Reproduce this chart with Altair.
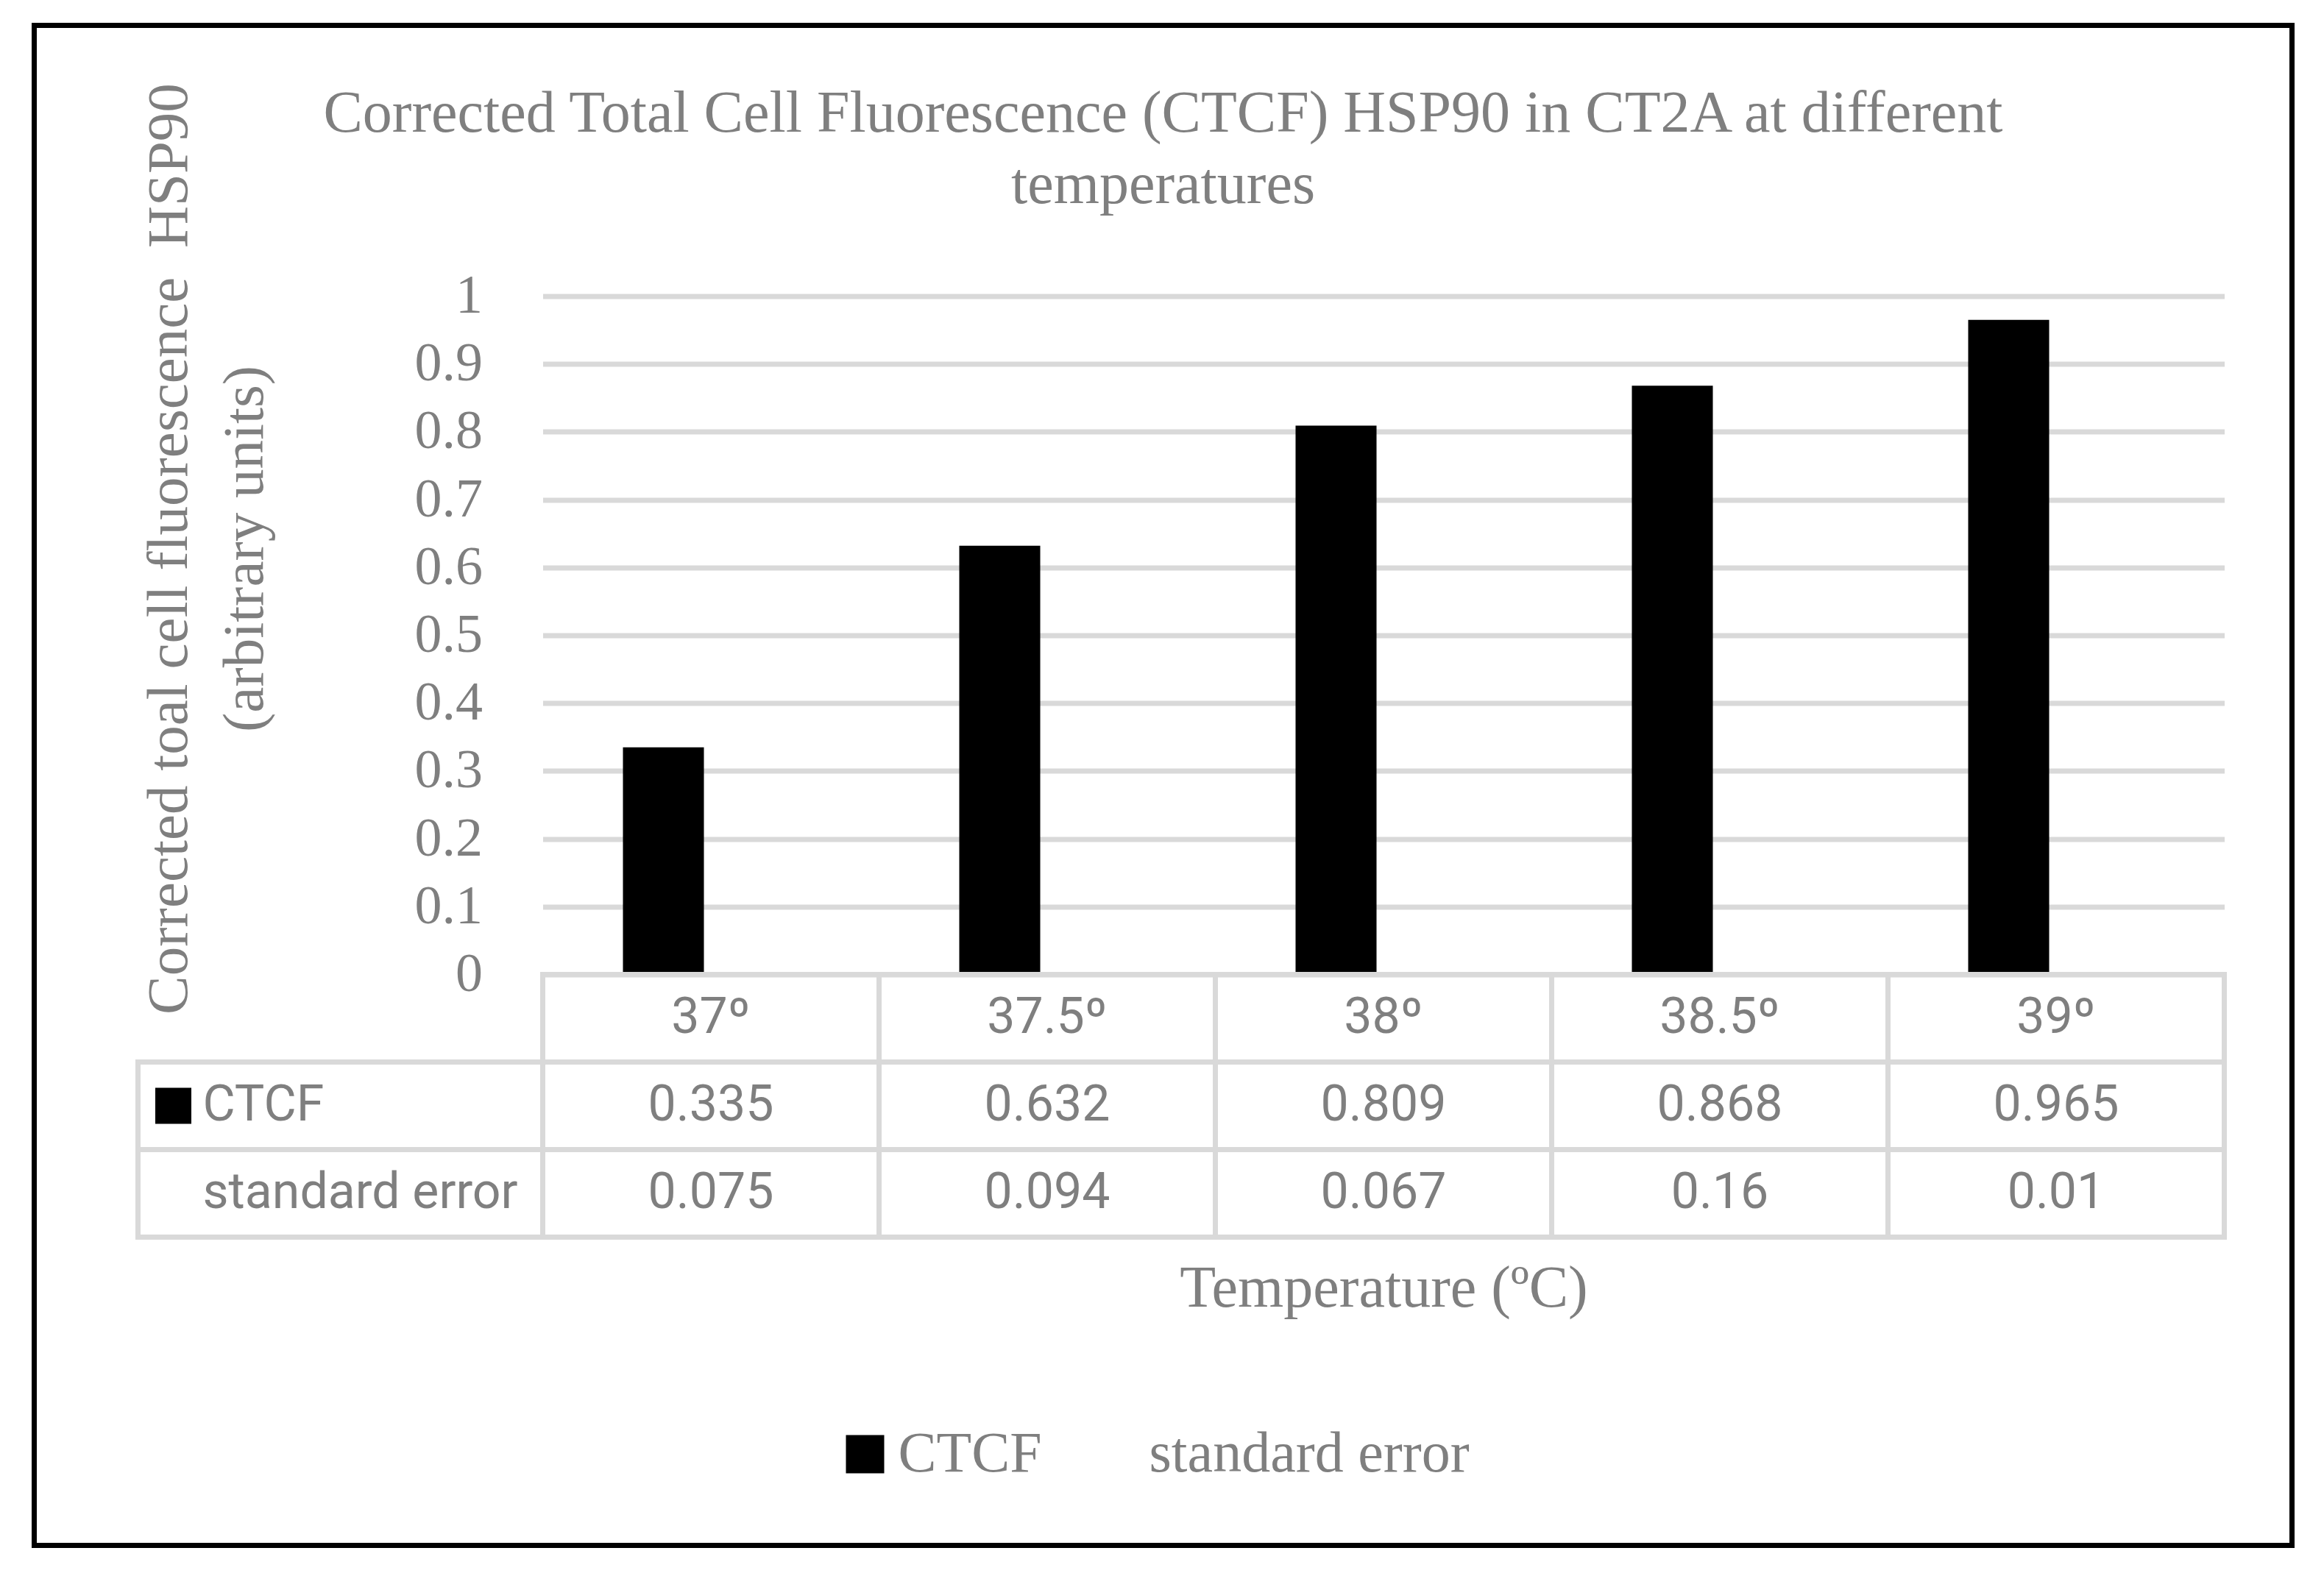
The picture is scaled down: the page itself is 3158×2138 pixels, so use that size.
import altair as alt
import pandas as pd

# ---- data ----
temps = ["37º", "37.5º", "38º", "38.5º", "39º"]
ctcf = [0.335, 0.632, 0.809, 0.868, 0.965]
std_err = [0.075, 0.094, 0.067, 0.16, 0.01]
series = ["CTCF", "standard error"]
table_rows = ["hdr", "CTCF", "standard error"]
y_ticks = [0, 0.1, 0.2, 0.3, 0.4, 0.5, 0.6, 0.7, 0.8, 0.9, 1.0]
title_lines = ["Corrected Total Cell Fluorescence (CTCF) HSP90 in CT2A at different",
               "temperatures"]
y_title = ["Corrected toal cell fluorescence\u00a0 HSP90", "(arbitrary units)"]
x_title = "Temperature (ºC)"

# ---- styling ----
SERIF = "Palatino Linotype, Book Antiqua, Palatino, Liberation Serif, serif"
SANS = "Roboto, Open Sans, sans-serif"
GRAY = "#7f7f7f"
LINE = "#d9d9d9"
W, H = 2285, 922
TAB_BOTTOM = 1279

long = pd.DataFrame({
    "temp": temps * 2,
    "row": [s for s in series for _ in temps],
    "value": ctcf + std_err,
})
cells = pd.DataFrame([(t, r) for r in table_rows for t in temps], columns=["temp", "row"])
hdr = pd.DataFrame({"temp": temps, "row": ["hdr"] * len(temps)})
labels = pd.DataFrame({"row": series})
one = pd.DataFrame({"k": [0]})

x_enc = alt.X(
    "temp:N", sort=temps,
    scale=alt.Scale(domain=temps, paddingInner=0, paddingOuter=0),
    axis=alt.Axis(labels=False, ticks=False, domain=False, grid=False,
                  title=x_title, titleFont=SERIF, titleFontSize=80,
                  titleFontWeight="normal", titleColor=GRAY,
                  titleY=451, titleBaseline="alphabetic", titleLimit=3000),
)
y_tab = alt.Y("row:N", sort=table_rows,
              scale=alt.Scale(domain=table_rows, range=[H, TAB_BOTTOM],
                              paddingInner=0, paddingOuter=0),
              axis=None)

frame = alt.Chart(one).mark_rect(fillOpacity=0, stroke="black", strokeWidth=7).encode(
    x=alt.value(-691), x2=alt.value(2377), y=alt.value(-368), y2=alt.value(1698)
)

bars = alt.Chart(long).mark_bar().encode(
    x=x_enc,
    xOffset=alt.XOffset("row:N", sort=series,
                        scale=alt.Scale(domain=series, paddingInner=0.147, paddingOuter=0.845)),
    y=alt.Y("value:Q", scale=alt.Scale(domain=[0, 1], nice=False),
            axis=alt.Axis(values=y_ticks, format=".1~f", grid=True, gridColor=LINE,
                          gridWidth=7, ticks=False, domain=False, labelPadding=82,
                          labelFont=SERIF, labelFontSize=74, labelColor=GRAY,
                          title=y_title, titleFont=SERIF, titleFontSize=79,
                          titleFontWeight="normal", titleColor=GRAY, titleAngle=270,
                          titleX=-484, titleY=343, titleAlign="center",
                          titleBaseline="alphabetic", titleLineHeight=103,
                          titleLimit=3000)),
    color=alt.Color("row:N", sort=series,
                    scale=alt.Scale(domain=series, range=["#000000", "rgba(0,0,0,0)"]),
                    legend=alt.Legend(orient="none", legendX=399, legendY=1535,
                                      direction="horizontal", title=None,
                                      symbolType="square", symbolSize=2704,
                                      symbolStrokeWidth=0, labelFont=SERIF,
                                      labelFontSize=78, labelColor=GRAY,
                                      labelOffset=6, columnPadding=61,
                                      labelLimit=1000, padding=0)),
)

cell_rects = alt.Chart(cells).mark_rect(fillOpacity=0, stroke=LINE, strokeWidth=7).encode(
    x=x_enc, y=y_tab
)
label_cells = alt.Chart(labels).mark_rect(fillOpacity=0, stroke=LINE, strokeWidth=7).encode(
    x=alt.value(-550), x2=alt.value(0), y=y_tab
)
hdr_text = alt.Chart(hdr).mark_text(font=SANS, fontSize=68, color=GRAY, baseline="middle").encode(
    x=x_enc, y=y_tab, text="temp:N"
)
val_text = alt.Chart(long).mark_text(font=SANS, fontSize=68, color=GRAY, baseline="middle").encode(
    x=x_enc, y=y_tab, text=alt.Text("value:Q", format=".3~f")
)
row_text = alt.Chart(labels).mark_text(font=SANS, fontSize=68, color=GRAY, baseline="middle",
                                       align="left").encode(
    x=alt.value(-462), y=y_tab, text="row:N"
)
swatch = alt.Chart(labels[labels["row"] == "CTCF"]).mark_square(size=2401, color="black",
                                                                 opacity=1).encode(
    x=alt.value(-502), y=y_tab
)

table = alt.layer(cell_rects, label_cells, hdr_text, val_text, row_text, swatch)

chart = alt.layer(frame, bars, table).resolve_scale(y="independent").properties(
    width=W, height=H,
    padding={"left": 34.5, "top": 22.5, "right": 0, "bottom": 0},
    title=alt.Title(title_lines, font=SERIF, fontSize=80, fontWeight="normal", color=GRAY,
                    anchor="middle", frame="bounds", offset=-325, lineHeight=97,
                    baseline="alphabetic", limit=3000),
).configure_view(stroke=None)

chart.save("out.html", embed_options={"renderer": "svg", "actions": False})
